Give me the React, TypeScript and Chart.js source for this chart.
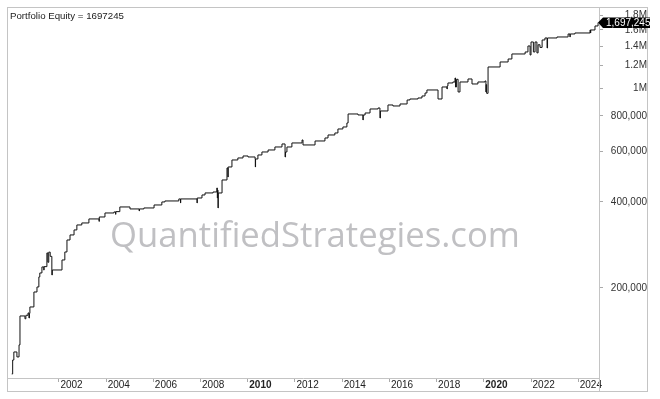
import React, { useEffect, useRef } from 'react';
import { Chart, registerables } from 'chart.js';

Chart.register(...registerables);

const TITLE = 'Portfolio Equity = 1697245';
const WATERMARK = 'QuantifiedStrategies.com';

const X_MIN = 1999.8;
const X_MAX = 2024.88;
const Y_MIN = 96800;
const Y_MAX = 1925000;

const X_TICK_YEARS = [2002, 2004, 2006, 2008, 2010, 2012, 2014, 2016, 2018, 2020, 2022, 2024];
const BOLD_YEARS = [2010, 2020];
const Y_TICK_VALUES = [200000, 400000, 600000, 800000, 1000000, 1200000, 1400000, 1600000, 1800000];

const EQUITY_DATES = [
  2000.00, 2000.04, 2000.09, 2000.22, 2000.31, 2000.35, 2000.56, 2000.60, 2000.69, 2000.73,
  2000.75, 2000.77, 2000.94, 2001.07, 2001.15, 2001.19, 2001.28, 2001.36, 2001.37, 2001.49,
  2001.53, 2001.57, 2001.63, 2001.70, 2001.72, 2002.13, 2002.25, 2002.34, 2002.47, 2002.64,
  2002.76, 2002.97, 2003.27, 2003.70, 2003.71, 2003.95, 2004.33, 2004.40, 2004.41, 2004.58,
  2005.01, 2005.40, 2005.41, 2005.60, 2006.03, 2006.36, 2006.49, 2007.08, 2007.15, 2007.16,
  2007.85, 2007.86, 2008.06, 2008.19, 2008.53, 2008.69, 2008.71, 2008.72, 2008.74, 2008.75,
  2008.91, 2009.12, 2009.16, 2009.17, 2009.33, 2009.58, 2009.80, 2010.01, 2010.31, 2010.32,
  2010.33, 2010.43, 2010.60, 2010.86, 2011.15, 2011.45, 2011.58, 2011.60, 2011.66, 2011.87,
  2012.30, 2012.34, 2012.85, 2013.27, 2013.40, 2013.69, 2013.82, 2014.03, 2014.20, 2014.25,
  2014.67, 2014.88, 2014.89, 2014.97, 2015.18, 2015.52, 2015.60, 2015.62, 2015.94, 2016.15,
  2016.45, 2016.75, 2016.87, 2017.21, 2017.38, 2017.51, 2017.59, 2018.06, 2018.23, 2018.44,
  2018.45, 2018.48, 2018.69, 2018.78, 2018.80, 2018.84, 2018.91, 2018.99, 2019.33, 2019.50,
  2019.75, 2020.05, 2020.09, 2020.10, 2020.12, 2020.18, 2020.69, 2021.03, 2021.19, 2021.75,
  2021.87, 2021.96, 2022.00, 2022.10, 2022.17, 2022.25, 2022.30, 2022.38, 2022.47, 2022.59,
  2022.68, 2022.70, 2023.10, 2023.57, 2023.65, 2023.66, 2023.86, 2024.50, 2024.52, 2024.53,
  2024.71, 2024.84,
];

const EQUITY_VALUES = [
  100000, 111900, 119400, 114700, 126400, 159600, 156000, 160500, 163500, 157000,
  163000, 171600, 193600, 201600, 218600, 225700, 236900, 231000, 237500, 265200,
  246000, 267000, 258000, 222100, 231200, 250600, 267300, 294400, 306600, 319200,
  332300, 337700, 348800, 342000, 354400, 366000, 369000, 362000, 370000, 384200,
  378100, 372000, 378100, 381100, 390400, 400000, 403200, 409800, 397000, 409800,
  396800, 413000, 423200, 430100, 433500, 447700, 413000, 440000, 381100, 430000,
  477500, 526000, 489200, 530300, 561000, 570200, 579400, 574800, 565600, 530300,
  565600, 584100, 598400, 608100, 623000, 638300, 574800, 598400, 623000, 643500,
  659200, 633200, 653900, 669900, 686300, 697400, 720300, 732000, 756000, 812800,
  806300, 774500, 806300, 819400, 846300, 853100, 787000, 832700, 874000, 867000,
  881000, 909800, 917200, 924700, 939700, 962700, 986300, 917200, 1010400, 994300,
  1018600, 1043500, 1052000, 1086400, 1010000, 1075000, 970500, 1052000, 1077700, 1035100,
  1052000, 1060500, 970500, 1030000, 960000, 1187200, 1235900, 1266100, 1318300, 1339700,
  1406000, 1307700, 1452100, 1340000, 1452100, 1330000, 1420000, 1390000, 1475700, 1499700,
  1383600, 1499700, 1511800, 1548800, 1511800, 1548800, 1561400, 1599600, 1561400, 1599600,
  1652000, 1697245,
];

const FONT = '"Liberation Sans", Arial, sans-serif';

function formatY(v: number): string {
  if (v >= 1000000) return `${v / 1000000}M`;
  return v.toLocaleString('en-US');
}

const overlayPlugin = {
  id: 'overlay',
  beforeDatasetsDraw(chart: any) {
    const ctx = chart.ctx as CanvasRenderingContext2D;
    ctx.save();
    const targetWidth = 410;
    let size = 36;
    ctx.font = `${size}px "Open Sans", sans-serif`;
    const w = ctx.measureText(WATERMARK).width;
    size = (size * targetWidth) / w;
    ctx.font = `${size}px "Open Sans", sans-serif`;
    ctx.fillStyle = '#c0c0c3';
    ctx.textAlign = 'center';
    ctx.textBaseline = 'alphabetic';
    ctx.fillText(WATERMARK, 315, 247);
    ctx.restore();
  },
  afterDraw(chart: any) {
    const ctx = chart.ctx as CanvasRenderingContext2D;
    const area = chart.chartArea;
    ctx.save();
    // frame
    ctx.strokeStyle = '#c4c4c4';
    ctx.lineWidth = 1;
    ctx.strokeRect(7.5, 7.5, 640, 384);
    ctx.beginPath();
    ctx.moveTo(Math.round(area.right) + 0.5, 7);
    ctx.lineTo(Math.round(area.right) + 0.5, 391);
    ctx.stroke();
    // title
    ctx.fillStyle = '#1a1a1a';
    ctx.font = `9.7px ${FONT}`;
    ctx.textAlign = 'left';
    ctx.textBaseline = 'alphabetic';
    ctx.fillText(TITLE, 10, 18.5);
    // last value tag
    const last = EQUITY_VALUES[EQUITY_VALUES.length - 1];
    const y = chart.scales.y.getPixelForValue(last);
    const x0 = area.right - 1;
    ctx.beginPath();
    ctx.rect(0, 0, 650, 399);
    ctx.clip();
    ctx.beginPath();
    ctx.moveTo(x0, y);
    ctx.lineTo(x0 + 5, y - 5);
    ctx.lineTo(660, y - 5);
    ctx.lineTo(660, y + 5.5);
    ctx.lineTo(x0 + 5, y + 5.5);
    ctx.closePath();
    ctx.fillStyle = '#000';
    ctx.fill();
    ctx.fillStyle = '#fff';
    ctx.font = `10px ${FONT}`;
    ctx.textBaseline = 'middle';
    ctx.fillText(last.toLocaleString('en-US'), x0 + 8, y + 0.5);
    ctx.restore();
  },
};

export default function App() {
  const ref = useRef<HTMLCanvasElement | null>(null);

  useEffect(() => {
    if (!ref.current) return;
    const points = EQUITY_DATES.map((d, i) => ({ x: d, y: EQUITY_VALUES[i] }));
    const chart = new Chart(ref.current, {
      type: 'line',
      data: {
        datasets: [
          {
            label: 'Portfolio Equity',
            data: points,
            borderColor: '#111',
            borderWidth: 1,
            pointRadius: 0,
            stepped: true,
            fill: false,
            tension: 0,
          },
        ],
      },
      options: {
        animation: false,
        responsive: false,
        devicePixelRatio: 1,
        layout: { padding: { left: 7, top: 7, right: 13, bottom: 8 } },
        plugins: {
          legend: { display: false },
          tooltip: { enabled: false },
          title: { display: false },
        },
        scales: {
          x: {
            type: 'linear',
            min: X_MIN,
            max: X_MAX,
            afterBuildTicks: (scale: any) => {
              scale.ticks = X_TICK_YEARS.map((v) => ({ value: v }));
            },
            afterFit: (scale: any) => {
              scale.height = 13;
              scale.paddingLeft = 0;
              scale.paddingRight = 0;
            },
            grid: {
              display: true,
              drawOnChartArea: false,
              drawTicks: true,
              tickLength: 4,
              color: '#aaaaaa',
            },
            border: { display: true, color: '#c4c4c4' },
            ticks: {
              autoSkip: false,
              maxRotation: 0,
              minRotation: 0,
              align: 'start',
              padding: -3,
              labelOffset: 1.5,
              color: '#222',
              font: (c: any) => ({
                family: FONT,
                size: 10,
                weight: c.tick && BOLD_YEARS.includes(c.tick.value) ? 'bold' : 'normal',
              }),
              callback: (v: any) => String(v),
            },
          },
          y: {
            type: 'logarithmic',
            position: 'right',
            min: Y_MIN,
            max: Y_MAX,
            afterBuildTicks: (scale: any) => {
              scale.ticks = Y_TICK_VALUES.map((v) => ({ value: v }));
            },
            afterFit: (scale: any) => {
              scale.width = 48;
              scale.paddingTop = 0;
              scale.paddingBottom = 0;
            },
            grid: {
              display: true,
              drawOnChartArea: false,
              drawTicks: true,
              tickLength: 4,
              color: '#aaaaaa',
            },
            border: { display: true, color: '#c4c4c4' },
            ticks: {
              autoSkip: false,
              crossAlign: 'far',
              padding: 4,
              color: '#333',
              font: { family: FONT, size: 10 },
              callback: (v: any) => formatY(Number(v)),
            },
          },
        },
      },
      plugins: [overlayPlugin],
    });
    return () => chart.destroy();
  }, []);

  return (
    <div style={{ position: 'fixed', left: 0, top: 0, width: 660, height: 399, background: '#fff' }}>
      <canvas ref={ref} width={660} height={399} style={{ display: 'block' }} />
    </div>
  );
}
